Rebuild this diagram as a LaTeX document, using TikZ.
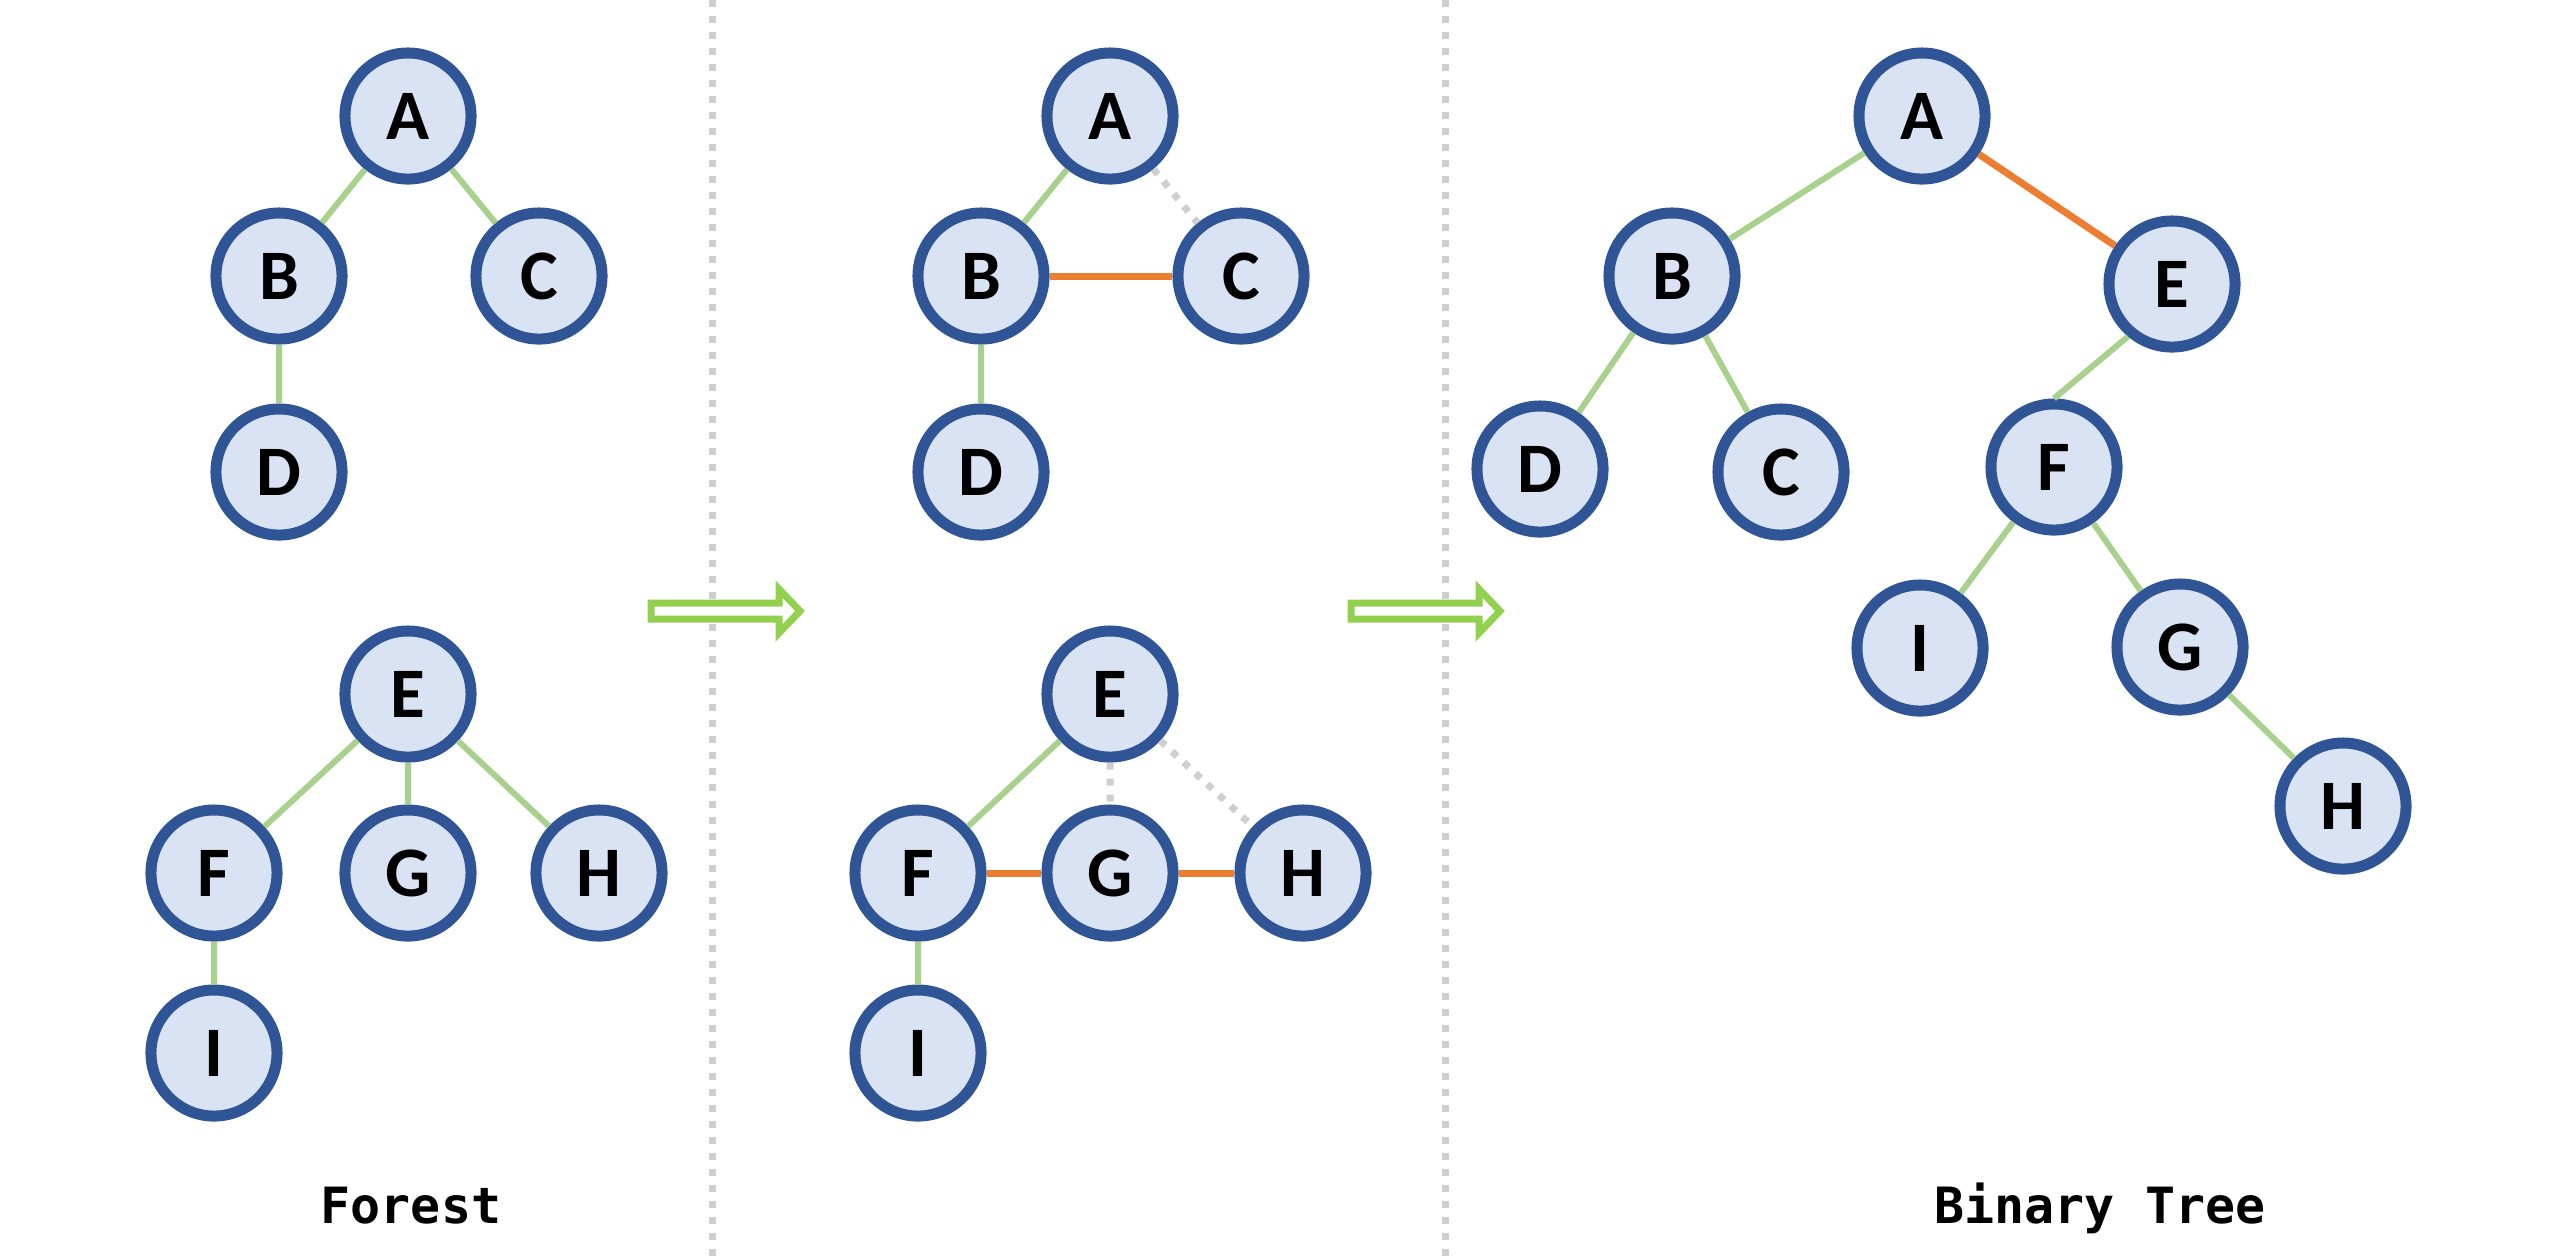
\documentclass[tikz,border=0pt]{standalone}
\usepackage{fontspec}
\newfontfamily\vtxfont{Carlito}
\newfontfamily\capfont{DejaVu Sans Mono}
\definecolor{vtxfill}{HTML}{DAE3F3}
\definecolor{vtxline}{HTML}{2F5597}
\definecolor{keepgreen}{HTML}{A9D18E}
\definecolor{linkorange}{HTML}{ED7D31}
\definecolor{dropgray}{HTML}{D0CECE}
\definecolor{stepgreen}{HTML}{92D050}

\begin{document}
\begin{tikzpicture}[x=0.01cm, y=-0.01cm,
  vtx/.style={circle, draw=vtxline, fill=vtxfill, line width=0.11cm, minimum size=1.26cm, inner sep=0pt, font=\vtxfont\bfseries\fontsize{20.2}{24}\selectfont},
  keep/.style={keepgreen, line width=0.06cm},
  link/.style={linkorange, line width=0.07cm},
  drop/.style={dropgray, line width=0.07cm, dash pattern=on 0.07cm off 0.09cm},
  steparrow/.style={draw=stepgreen, fill=white, line width=0.07cm, line join=miter},
  caption/.style={anchor=base, font=\capfont\bfseries\fontsize{14.2}{17}\selectfont}]
\useasboundingbox (0,0) rectangle (2560,1256);
% dividers
\draw[drop] (712,0) -- (712,1256);
\draw[drop] (1445,0) -- (1445,1256);
% transformation arrows
\foreach \dx in {0,700}
  \draw[steparrow, xshift=\dx*0.01cm] (651,603) -- (779,603) -- (779,589) -- (800,611) -- (779,633) -- (779,619) -- (651,619) -- cycle;

% forest
\node[vtx] (la) at (408,116) {A};
\node[vtx] (lb) at (279,276) {B};
\node[vtx] (lc) at (539,276) {C};
\node[vtx] (ld) at (279,472) {D};
\node[vtx] (le) at (408,694) {E};
\node[vtx] (lf) at (214,873) {F};
\node[vtx] (lg) at (408,873) {G};
\node[vtx] (lh) at (599,873) {H};
\node[vtx] (li) at (214,1053) {I};
\draw[keep] (la) -- (lb) (la) -- (lc) (lb) -- (ld);
\draw[keep] (le) -- (lf) (le) -- (lg) (le) -- (lh) (lf) -- (li);

% siblings linked
\node[vtx] (ma) at (1110,116) {A};
\node[vtx] (mb) at (981,276) {B};
\node[vtx] (mc) at (1241,276) {C};
\node[vtx] (md) at (981,472) {D};
\node[vtx] (me) at (1110,694) {E};
\node[vtx] (mf) at (918,873) {F};
\node[vtx] (mg) at (1110,873) {G};
\node[vtx] (mh) at (1303,873) {H};
\node[vtx] (mi) at (918,1053) {I};
\draw[keep] (ma) -- (mb) (mb) -- (md) (me) -- (mf) (mf) -- (mi);
\draw[drop] (ma) -- (mc) (me) -- (mg) (me) -- (mh);
\draw[link] (mb) -- (mc) (mf) -- (mg) (mg) -- (mh);

% binary tree
\node[vtx] (ra) at (1922,116) {A};
\node[vtx] (rb) at (1672,276) {B};
\node[vtx] (re) at (2172,284) {E};
\node[vtx] (rd) at (1540,469) {D};
\node[vtx] (rc) at (1781,472) {C};
\node[vtx] (rf) at (2054,467) {F};
\node[vtx] (ri) at (1920,648) {I};
\node[vtx] (rg) at (2180,647) {G};
\node[vtx] (rh) at (2343,806) {H};
\draw[keep] (ra) -- (rb) (rb) -- (rd) (rb) -- (rc) (re.230) -- (rf.north) (rf) -- (ri) (rf) -- (rg) (rg) -- (rh);
\draw[link] (ra) -- (re);

\node[caption] (forest) at (411,1223) {Forest};
\node[caption] (tree) at (2100,1223) {Binary Tree};
\end{tikzpicture}
\end{document}
